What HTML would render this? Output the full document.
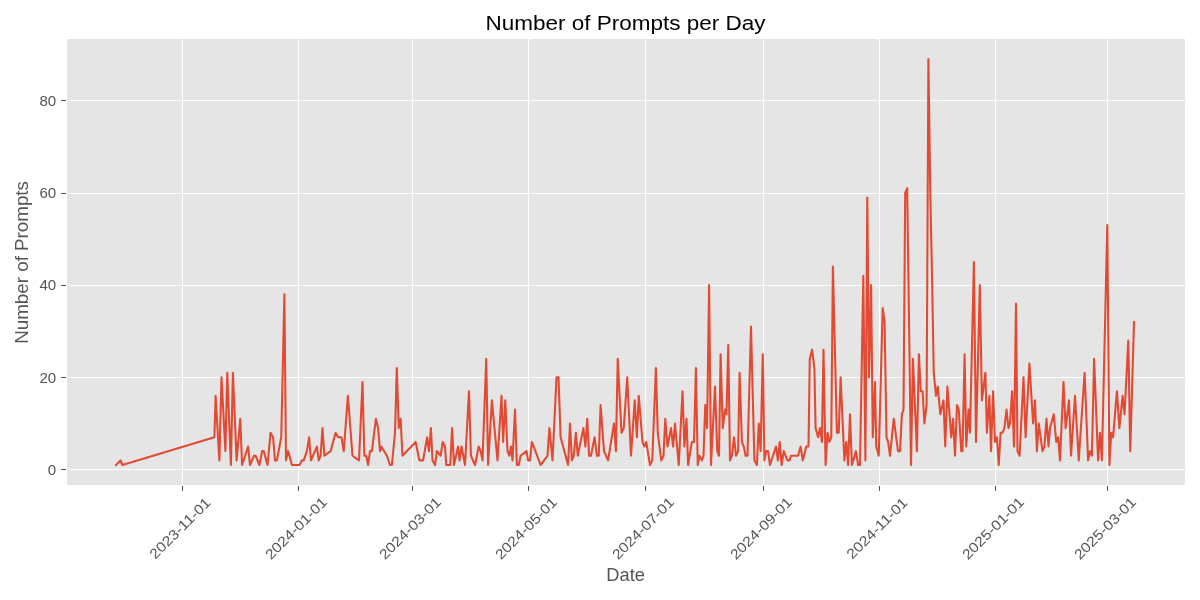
<!DOCTYPE html>
<html><head><meta charset="utf-8"><title>Number of Prompts per Day</title>
<style>html,body{margin:0;padding:0;background:#fff;width:1200px;height:600px;overflow:hidden}svg{display:block;will-change:transform}</style>
</head><body>
<svg width="1200" height="600" viewBox="0 0 1200 600">
<rect x="67.0" y="39.0" width="1118.0" height="446.0" fill="#E5E5E5"/>
<line x1="182.5" y1="39.0" x2="182.5" y2="485.0" stroke="#fff" stroke-width="1.1"/>
<line x1="298.5" y1="39.0" x2="298.5" y2="485.0" stroke="#fff" stroke-width="1.1"/>
<line x1="412.5" y1="39.0" x2="412.5" y2="485.0" stroke="#fff" stroke-width="1.1"/>
<line x1="528.5" y1="39.0" x2="528.5" y2="485.0" stroke="#fff" stroke-width="1.1"/>
<line x1="645.5" y1="39.0" x2="645.5" y2="485.0" stroke="#fff" stroke-width="1.1"/>
<line x1="763.5" y1="39.0" x2="763.5" y2="485.0" stroke="#fff" stroke-width="1.1"/>
<line x1="879.5" y1="39.0" x2="879.5" y2="485.0" stroke="#fff" stroke-width="1.1"/>
<line x1="995.5" y1="39.0" x2="995.5" y2="485.0" stroke="#fff" stroke-width="1.1"/>
<line x1="1107.5" y1="39.0" x2="1107.5" y2="485.0" stroke="#fff" stroke-width="1.1"/>
<line x1="67.0" y1="469.5" x2="1185.0" y2="469.5" stroke="#fff" stroke-width="1.1"/>
<line x1="67.0" y1="377.5" x2="1185.0" y2="377.5" stroke="#fff" stroke-width="1.1"/>
<line x1="67.0" y1="285.5" x2="1185.0" y2="285.5" stroke="#fff" stroke-width="1.1"/>
<line x1="67.0" y1="193.5" x2="1185.0" y2="193.5" stroke="#fff" stroke-width="1.1"/>
<line x1="67.0" y1="100.5" x2="1185.0" y2="100.5" stroke="#fff" stroke-width="1.1"/>
<polyline points="116.10,464.99 120.50,460.38 122.40,464.99 214.40,437.31 215.60,395.80 219.40,460.38 221.50,377.35 225.40,451.15 227.25,372.74 230.90,464.99 232.90,372.74 236.60,460.38 240.25,418.86 242.10,464.99 248.10,446.54 250.00,464.99 254.00,455.76 255.60,455.76 259.40,464.99 262.10,451.15 263.75,451.15 267.50,464.99 270.60,432.70 273.10,437.31 275.00,460.38 276.90,460.38 281.25,437.31 284.40,294.33 286.00,460.38 288.10,451.15 291.90,464.99 299.40,464.99 301.90,460.38 303.75,460.38 306.90,451.15 309.10,437.31 311.00,460.38 316.90,446.54 318.75,460.38 320.60,455.76 322.50,428.09 324.40,455.76 330.60,451.15 335.60,432.70 338.10,437.31 341.50,437.31 343.75,451.15 347.90,395.80 352.50,455.76 359.00,460.38 362.50,381.96 364.40,455.76 366.25,455.76 368.10,464.99 370.00,451.15 371.90,451.15 375.90,418.86 378.10,428.09 380.00,451.15 381.25,446.54 386.90,455.76 390.00,464.99 391.90,464.99 395.00,432.70 396.80,368.12 398.75,428.09 400.60,418.86 402.50,455.76 415.60,441.93 419.40,460.38 423.10,460.38 427.10,437.31 429.00,451.15 430.90,428.09 432.50,460.38 435.00,464.99 436.90,451.15 440.60,455.76 442.75,441.93 445.00,446.54 446.25,464.99 450.25,464.99 452.10,428.09 454.00,464.99 458.10,446.54 459.60,460.38 461.50,446.54 465.00,464.99 469.00,391.19 470.90,455.76 475.00,464.99 478.75,446.54 480.60,451.15 482.50,460.38 486.25,358.90 488.10,464.99 491.90,400.41 497.50,460.38 501.50,395.80 503.10,441.93 505.25,400.41 507.50,451.15 509.40,455.76 511.00,446.54 512.50,460.38 515.00,409.64 516.90,464.99 518.75,464.99 520.60,455.76 526.50,451.15 528.10,460.38 530.00,460.38 531.90,441.93 540.60,464.99 547.50,455.76 549.40,428.09 552.50,460.38 556.50,377.35 558.50,377.35 560.60,437.31 568.10,464.99 570.00,423.48 571.90,460.38 573.75,455.76 575.90,432.70 577.75,455.76 583.40,428.09 585.40,446.54 587.25,418.86 589.10,455.76 591.00,455.76 594.60,437.31 596.90,455.76 598.75,455.76 600.60,405.03 604.00,451.15 608.10,460.38 614.00,423.48 615.90,451.15 617.75,358.90 621.50,432.70 623.75,428.09 627.25,377.35 631.00,455.76 634.75,400.41 636.90,437.31 638.75,395.80 642.50,441.93 644.40,446.54 646.25,441.93 650.00,464.99 652.25,460.38 655.90,368.12 657.75,432.70 661.25,460.38 663.50,455.76 665.25,418.86 667.50,446.54 671.00,428.09 673.10,446.54 675.00,423.48 678.75,464.99 682.50,391.19 684.40,446.54 686.50,418.86 688.10,464.99 691.90,441.93 694.00,441.93 695.90,368.12 697.75,464.99 699.40,455.76 701.90,460.38 703.50,455.76 705.25,405.03 707.10,428.09 709.10,285.10 711.00,464.99 715.00,386.58 717.25,451.15 719.00,455.76 720.60,354.29 722.75,428.09 725.00,409.64 726.50,414.25 728.25,345.06 730.00,460.38 731.90,455.76 734.00,437.31 736.00,455.76 738.10,451.15 739.60,372.74 741.90,441.93 743.75,446.54 745.60,455.76 747.50,455.76 751.00,326.61 754.40,460.38 756.90,464.99 758.75,423.48 760.60,451.15 762.75,354.29 764.40,460.38 766.25,451.15 768.10,451.15 770.00,464.99 776.00,446.54 777.90,460.38 779.75,441.93 781.60,464.99 783.75,451.15 787.50,460.38 789.40,460.38 791.00,455.76 798.10,455.76 800.60,446.54 802.75,460.38 806.25,446.54 808.50,446.54 809.75,358.90 812.10,349.68 814.40,368.12 815.60,428.09 818.10,437.31 820.00,428.09 821.90,441.93 823.50,349.68 825.60,464.99 827.50,432.70 829.40,441.93 831.25,437.31 832.90,266.65 836.90,432.70 838.75,432.70 840.60,377.35 844.40,460.38 846.25,441.93 848.10,464.99 850.00,414.25 851.90,464.99 856.00,451.15 858.10,464.99 860.00,464.99 863.30,275.88 865.40,460.38 867.30,197.46 869.00,377.35 871.10,285.10 872.80,437.31 875.00,381.96 876.25,446.54 878.75,455.76 882.70,308.16 884.60,322.00 886.50,437.31 888.10,441.93 890.00,455.76 893.75,418.86 898.00,451.15 900.00,451.15 901.90,414.25 903.50,409.64 905.20,192.85 907.20,188.24 911.00,464.99 912.90,358.90 916.90,451.15 918.90,354.29 920.80,391.19 922.60,391.19 924.40,423.48 926.60,405.03 928.40,59.09 930.30,192.85 932.20,285.10 933.75,372.74 936.00,395.80 937.75,386.58 940.30,414.25 943.50,400.41 945.25,446.54 947.40,386.58 951.25,437.31 953.10,418.86 955.00,455.76 957.00,405.03 958.75,409.64 961.25,451.15 962.50,451.15 964.60,354.29 966.25,446.54 968.50,409.64 970.00,432.70 973.90,262.04 976.00,441.93 979.80,285.10 981.90,400.41 985.40,372.74 986.90,432.70 989.40,395.80 991.00,451.15 993.10,391.19 995.00,441.93 996.90,437.31 998.75,464.99 1000.60,432.70 1002.50,432.70 1004.40,428.09 1006.50,409.64 1008.50,428.09 1010.00,423.48 1012.10,391.19 1014.00,446.54 1016.00,303.55 1017.50,451.15 1019.60,455.76 1023.50,377.35 1025.60,437.31 1029.40,363.51 1033.10,423.48 1035.00,400.41 1036.90,451.15 1038.75,423.48 1042.50,451.15 1044.40,446.54 1046.50,418.86 1048.50,446.54 1050.00,428.09 1053.75,414.25 1056.25,441.93 1058.10,437.31 1060.00,460.38 1063.50,381.96 1065.60,428.09 1069.00,400.41 1071.00,455.76 1075.00,395.80 1078.75,460.38 1084.60,372.74 1088.10,460.38 1090.00,451.15 1091.90,455.76 1094.10,358.90 1098.10,460.38 1100.00,432.70 1101.90,460.38 1107.30,225.14 1109.40,464.99 1111.25,432.70 1113.10,437.31 1116.90,391.19 1119.40,428.09 1122.60,395.80 1124.50,414.25 1128.30,340.45 1130.25,451.15 1134.00,322.00" fill="none" stroke="#E24A33" stroke-width="2.08" stroke-linejoin="round" stroke-linecap="square"/>
<line x1="182.5" y1="486.0" x2="182.5" y2="490.86" stroke="#555" stroke-width="1.1"/>
<line x1="298.5" y1="486.0" x2="298.5" y2="490.86" stroke="#555" stroke-width="1.1"/>
<line x1="412.5" y1="486.0" x2="412.5" y2="490.86" stroke="#555" stroke-width="1.1"/>
<line x1="528.5" y1="486.0" x2="528.5" y2="490.86" stroke="#555" stroke-width="1.1"/>
<line x1="645.5" y1="486.0" x2="645.5" y2="490.86" stroke="#555" stroke-width="1.1"/>
<line x1="763.5" y1="486.0" x2="763.5" y2="490.86" stroke="#555" stroke-width="1.1"/>
<line x1="879.5" y1="486.0" x2="879.5" y2="490.86" stroke="#555" stroke-width="1.1"/>
<line x1="995.5" y1="486.0" x2="995.5" y2="490.86" stroke="#555" stroke-width="1.1"/>
<line x1="1107.5" y1="486.0" x2="1107.5" y2="490.86" stroke="#555" stroke-width="1.1"/>
<line x1="61.14" y1="469.5" x2="66.0" y2="469.5" stroke="#555" stroke-width="1.1"/>
<line x1="61.14" y1="377.5" x2="66.0" y2="377.5" stroke="#555" stroke-width="1.1"/>
<line x1="61.14" y1="285.5" x2="66.0" y2="285.5" stroke="#555" stroke-width="1.1"/>
<line x1="61.14" y1="193.5" x2="66.0" y2="193.5" stroke="#555" stroke-width="1.1"/>
<line x1="61.14" y1="100.5" x2="66.0" y2="100.5" stroke="#555" stroke-width="1.1"/>
<text x="0" y="0" transform="translate(56.2 474.5) scale(1.07 1)" text-anchor="end" font-size="14.1" fill="#555" font-family="Liberation Sans, sans-serif">0</text>
<text x="0" y="0" transform="translate(56.2 382.5) scale(1.07 1)" text-anchor="end" font-size="14.1" fill="#555" font-family="Liberation Sans, sans-serif">20</text>
<text x="0" y="0" transform="translate(56.2 289.7) scale(1.07 1)" text-anchor="end" font-size="14.1" fill="#555" font-family="Liberation Sans, sans-serif">40</text>
<text x="0" y="0" transform="translate(56.2 197.75) scale(1.07 1)" text-anchor="end" font-size="14.1" fill="#555" font-family="Liberation Sans, sans-serif">60</text>
<text x="0" y="0" transform="translate(56.2 105.5) scale(1.07 1)" text-anchor="end" font-size="14.1" fill="#555" font-family="Liberation Sans, sans-serif">80</text>
<g transform="translate(179.9 528.1) rotate(-45)"><text x="0" y="5" transform="scale(1.12 1)" text-anchor="middle" font-size="14.1" fill="#555" font-family="Liberation Sans, sans-serif">2023-11-01</text></g>
<g transform="translate(295.9 528.1) rotate(-45)"><text x="0" y="5" transform="scale(1.12 1)" text-anchor="middle" font-size="14.1" fill="#555" font-family="Liberation Sans, sans-serif">2024-01-01</text></g>
<g transform="translate(409.9 528.1) rotate(-45)"><text x="0" y="5" transform="scale(1.12 1)" text-anchor="middle" font-size="14.1" fill="#555" font-family="Liberation Sans, sans-serif">2024-03-01</text></g>
<g transform="translate(525.9 528.1) rotate(-45)"><text x="0" y="5" transform="scale(1.12 1)" text-anchor="middle" font-size="14.1" fill="#555" font-family="Liberation Sans, sans-serif">2024-05-01</text></g>
<g transform="translate(642.9 528.1) rotate(-45)"><text x="0" y="5" transform="scale(1.12 1)" text-anchor="middle" font-size="14.1" fill="#555" font-family="Liberation Sans, sans-serif">2024-07-01</text></g>
<g transform="translate(760.9 528.1) rotate(-45)"><text x="0" y="5" transform="scale(1.12 1)" text-anchor="middle" font-size="14.1" fill="#555" font-family="Liberation Sans, sans-serif">2024-09-01</text></g>
<g transform="translate(876.9 528.1) rotate(-45)"><text x="0" y="5" transform="scale(1.12 1)" text-anchor="middle" font-size="14.1" fill="#555" font-family="Liberation Sans, sans-serif">2024-11-01</text></g>
<g transform="translate(992.9 528.1) rotate(-45)"><text x="0" y="5" transform="scale(1.12 1)" text-anchor="middle" font-size="14.1" fill="#555" font-family="Liberation Sans, sans-serif">2025-01-01</text></g>
<g transform="translate(1104.9 528.1) rotate(-45)"><text x="0" y="5" transform="scale(1.12 1)" text-anchor="middle" font-size="14.1" fill="#555" font-family="Liberation Sans, sans-serif">2025-03-01</text></g>
<text x="0" y="0" transform="translate(625.5 30) scale(1.109 1)" text-anchor="middle" font-size="20.3" fill="#000" font-family="Liberation Sans, sans-serif">Number of Prompts per Day</text>
<text x="0" y="0" transform="translate(625.6 581.2) scale(1.034 1)" text-anchor="middle" font-size="17.7" fill="#555" font-family="Liberation Sans, sans-serif">Date</text>
<g transform="translate(28.2 262.4) rotate(-90)"><text x="0" y="0" transform="scale(1.061 1)" text-anchor="middle" font-size="17.7" fill="#555" font-family="Liberation Sans, sans-serif">Number of Prompts</text></g>
</svg>
</body></html>
